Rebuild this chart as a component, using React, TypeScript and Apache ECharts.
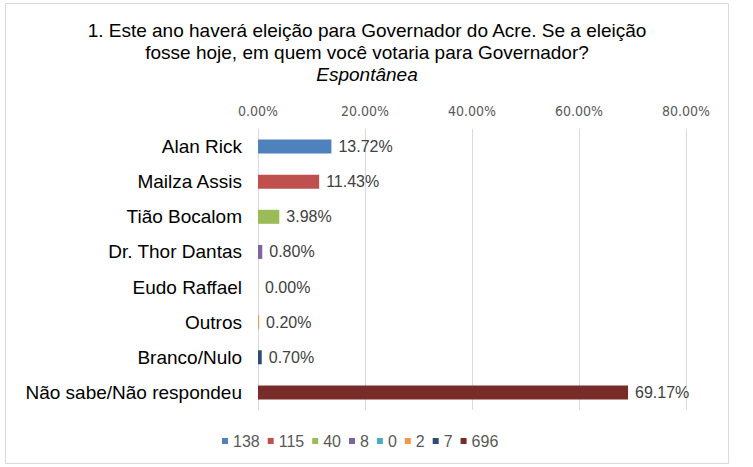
import React, { useEffect, useRef } from "react";
import * as echarts from "echarts";

const categories = [
  "Alan Rick",
  "Mailza Assis",
  "Tião Bocalom",
  "Dr. Thor Dantas",
  "Eudo Raffael",
  "Outros",
  "Branco/Nulo",
  "Não sabe/Não respondeu",
];
const percents = [13.72, 11.43, 3.98, 0.8, 0.0, 0.2, 0.7, 69.17];
const counts = ["138", "115", "40", "8", "0", "2", "7", "696"];
const colors = ["#4F81BD", "#C0504D", "#9BBB59", "#8064A2", "#4BACC6", "#F79646", "#2C4D75", "#772C2A"];
const xTicks = [0, 20, 40, 60, 80];

const sans = "'Liberation Sans', Arial, sans-serif";
const narrow = "'Liberation Sans Narrow', 'DejaVu Sans Condensed', 'Roboto Condensed', 'Open Sans Condensed', sans-serif";

export default function App() {
  const ref = useRef<HTMLDivElement>(null);
  useEffect(() => {
    document.body.style.margin = "0";
    const chart = echarts.init(ref.current!, null, { renderer: "svg" });
    const series = counts.map((name, i) => ({
      name,
      type: "bar",
      stack: "total",
      barWidth: 14,
      itemStyle: { color: colors[i] },
      data: percents.map((v, j) => (j === i ? v : "-")),
      label: {
        show: true,
        position: "right",
        distance: 7,
        color: "#404040",
        fontSize: 16,
        fontFamily: sans,
        formatter: (p: any) => Number(p.value).toFixed(2) + "%",
      },
    }));
    chart.setOption({
      animation: false,
      backgroundColor: "#ffffff",
      title: {
        text:
          "{a|1. Este ano haverá eleição para Governador do Acre. Se a eleição}\n{a|fosse hoje, em quem você votaria para Governador?}\n{b|Espontânea}",
        left: 362,
        top: 14,
        textAlign: "center",
        textStyle: {
          fontWeight: "normal",
          rich: {
            a: { fontSize: 19, lineHeight: 22, color: "#000000", fontWeight: "normal", fontFamily: sans },
            b: {
              fontSize: 19,
              lineHeight: 22,
              color: "#000000",
              fontStyle: "italic",
              fontWeight: "normal",
              fontFamily: sans,
            },
          },
        },
      },
      graphic: [
        {
          type: "rect",
          shape: { x: 5.5, y: 3.5, width: 723, height: 460 },
          style: { fill: "none", stroke: "#d9d9d9", lineWidth: 1 },
          silent: true,
        },
      ],
      legend: {
        left: 222,
        top: 433,
        padding: 0,
        itemWidth: 6,
        itemHeight: 6,
        itemGap: 8,
        icon: "rect",
        textStyle: { color: "#595959", fontSize: 16, fontFamily: sans },
        data: counts,
      },
      grid: { left: 258, right: 67, top: 129, bottom: 57, containLabel: false },
      xAxis: {
        type: "value",
        position: "top",
        min: xTicks[0],
        max: xTicks[xTicks.length - 1],
        interval: 20,
        axisLine: { show: false },
        axisTick: { show: false },
        splitLine: { show: true, lineStyle: { color: "#d9d9d9", width: 1 } },
        axisLabel: {
          margin: 11,
          color: "#595959",
          fontSize: 14,
          fontFamily: narrow,
          formatter: (v: number) => v.toFixed(2) + "%",
        },
      },
      yAxis: {
        type: "category",
        inverse: true,
        data: categories,
        axisLine: { show: false },
        axisTick: { show: false },
        axisLabel: { margin: 16, color: "#000000", fontSize: 19, fontFamily: sans },
      },
      series,
    });
    return () => chart.dispose();
  }, []);
  return <div ref={ref} style={{ width: 753, height: 467 }} />;
}
